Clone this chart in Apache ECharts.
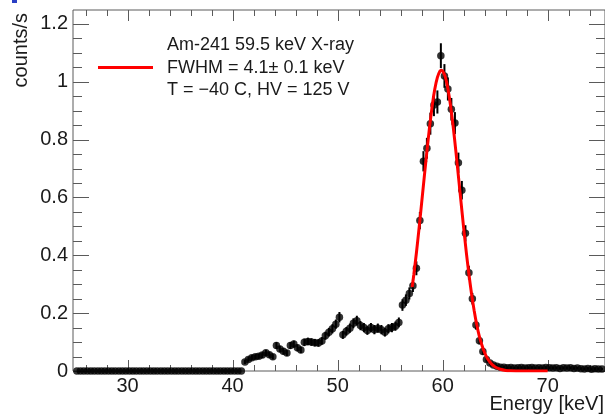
<!DOCTYPE html>
<html><head><meta charset="utf-8">
<script src="https://cdn.jsdelivr.net/npm/echarts@6/dist/echarts.min.js"></script>
<style>html,body{margin:0;padding:0;background:#fff}#c{width:605px;height:418px}</style>
</head><body><div id="c"></div>
<script>
// Bin centres (keV)
const energy = [
25.17,25.5,25.83,26.17,26.5,26.83,27.17,27.5,27.83,28.17,28.5,28.83,29.17,29.5,29.83,
30.17,30.5,30.83,31.17,31.5,31.83,32.17,32.5,32.83,33.17,33.5,33.83,34.17,34.5,34.83,
35.17,35.5,35.83,36.17,36.5,36.83,37.17,37.5,37.83,38.17,38.5,38.83,39.17,39.5,39.83,
40.17,40.5,40.83,41.17,41.5,41.83,42.17,42.5,42.83,43.17,43.5,43.83,44.17,44.5,44.83,
45.17,45.5,45.83,46.17,46.5,46.83,47.17,47.5,47.83,48.17,48.5,48.83,49.17,49.5,49.83,
50.17,50.5,50.83,51.17,51.5,51.83,52.17,52.5,52.83,53.17,53.5,53.83,54.17,54.5,54.83,
55.17,55.5,55.83,56.17,56.5,56.83,57.17,57.5,57.83,58.17,58.5,58.83,59.17,59.5,59.83,
60.17,60.5,60.83,61.17,61.5,61.83,62.17,62.5,62.83,63.17,63.5,63.83,64.17,64.5,64.83,
65.17,65.5,65.83,66.17,66.5,66.83,67.17,67.5,67.83,68.17,68.5,68.83,69.17,69.5,69.83,
70.17,70.5,70.83,71.17,71.5,71.83,72.17,72.5,72.83,73.17,73.5,73.83,74.17,74.5,74.83,
75.17
];
// counts/s per bin
const counts = [
0,0,0,0,0,0,0,0,0,0,0,0,0,0,0,
0,0,0,0,0,0,0,0,0,0,0,0,0,0,0,
0,0,0,0,0,0,0,0,0,0,0,0,0,0,0,
0,0,0,0.031,0.040,0.046,0.049,0.051,0.055,0.063,0.056,0.049,0.088,0.076,0.068,
0.062,0.088,0.093,0.080,0.073,0.099,0.102,0.100,0.098,0.097,0.104,0.122,0.134,0.146,0.162,
0.186,0.125,0.137,0.148,0.165,0.174,0.157,0.150,0.140,0.150,0.143,0.148,0.143,0.134,0.146,
0.150,0.155,0.168,0.228,0.245,0.268,0.295,0.355,0.520,0.725,0.770,0.855,0.920,0.930,1.090,
1.020,0.975,0.905,0.857,0.720,0.625,0.476,0.340,0.250,0.159,0.105,0.067,0.040,0.028,0.021,
0.016,0.013,0.013,0.011,0.012,0.010,0.011,0.012,0.010,0.011,0.012,0.010,0.011,0.010,0.012,
0.011,0.010,0.011,0.009,0.011,0.010,0.011,0.009,0.010,0.008,0.007,0.009,0.006,0.008,0.007,
0.007
];
// statistical error per bin
const errors = [
0,0,0,0,0,0,0,0,0,0,0,0,0,0,0,
0,0,0,0,0,0,0,0,0,0,0,0,0,0,0,
0,0,0,0,0,0,0,0,0,0,0,0,0,0,0,
0,0,0,0.007,0.008,0.009,0.009,0.009,0.010,0.010,0.010,0.009,0.012,0.011,0.011,
0.010,0.012,0.012,0.012,0.011,0.013,0.013,0.013,0.013,0.013,0.013,0.014,0.015,0.016,0.016,
0.018,0.014,0.015,0.016,0.017,0.017,0.016,0.016,0.015,0.016,0.016,0.016,0.016,0.015,0.016,
0.016,0.016,0.017,0.020,0.020,0.021,0.022,0.024,0.030,0.035,0.036,0.038,0.039,0.040,0.043,
0.041,0.040,0.039,0.038,0.035,0.032,0.028,0.024,0.020,0.016,0.013,0.011,0.008,0.007,0.006,
0.005,0.005,0.005,0.004,0.004,0.004,0.004,0.004,0.004,0.004,0.004,0.004,0.004,0.004,0.004,
0.004,0.004,0.004,0.004,0.004,0.004,0.004,0.004,0.004,0.004,0.004,0.004,0.004,0.004,0.004,
0.004
];
// fitted Gaussian curve
const fitEnergy = [57.1,57.25,57.5,57.75,58,58.25,58.5,58.75,59,59.25,59.5,59.75,59.88,60,60.25,60.5,60.75,61,61.25,61.5,61.75,62,62.25,62.5,62.75,63,63.25,63.5,63.75,64,64.25,64.5,64.75,65,65.5,66,66.5,67,68,69,70];
const fitCounts = [0.290,0.332,0.408,0.492,0.581,0.671,0.759,0.842,0.915,0.974,1.015,1.037,1.040,1.037,1.017,0.976,0.918,0.846,0.763,0.674,0.584,0.495,0.411,0.335,0.267,0.209,0.159,0.119,0.088,0.063,0.044,0.031,0.021,0.014,0.006,0.002,0.0007,0.0002,0,0,0];

const xMajorTicks = [30,40,50,60,70];
const xMinorTicks = [26,28,32,34,36,38,42,44,46,48,52,54,56,58,62,64,66,68,72,74];
const yMajorTicks = [0,0.2,0.4,0.6,0.8,1,1.2];
const yMinorTicks = [0.05,0.1,0.15,0.25,0.3,0.35,0.45,0.5,0.55,0.65,0.7,0.75,0.85,0.9,0.95,1.05,1.1,1.15];
const legendLines = ['Am-241 59.5 keV X-ray','FWHM = 4.1\u00b1 0.1 keV','T = \u221240 C, HV = 125 V'];
const xTitle = 'Energy [keV]';
const yTitle = 'counts/s';

const FONT = "'Liberation Sans', Arial, Helvetica, sans-serif";
const TXT = '#1a1a1a';
const AX = '#5a5a5a';

const tickItems = [];
xMajorTicks.forEach(v => tickItems.push({a:'x', v, m:true}));
xMinorTicks.forEach(v => tickItems.push({a:'x', v, m:false}));
yMajorTicks.forEach(v => tickItems.push({a:'y', v, m:true}));
yMinorTicks.forEach(v => tickItems.push({a:'y', v, m:false}));

const chart = echarts.init(document.getElementById('c'), null, {renderer:'canvas'});
const pts = energy.map((e,i) => [e, counts[i], errors[i]]);

chart.setOption({
  animation: false,
  backgroundColor: '#fff',
  grid: {left:73, top:10, right:0, bottom:47, show:true, borderColor:AX, borderWidth:1, backgroundColor:'transparent'},
  xAxis: {
    type:'value', min:24.8, max:75.46,
    axisLine:{show:false}, axisTick:{show:false}, splitLine:{show:false},
    axisLabel:{customValues:xMajorTicks, color:TXT, fontSize:20, fontFamily:FONT, margin:5}
  },
  yAxis: {
    type:'value', min:0, max:1.248, interval:0.2,
    axisLine:{show:false}, axisTick:{show:false}, splitLine:{show:false},
    axisLabel:{showMaxLabel:false, color:TXT, fontSize:20, fontFamily:FONT, margin:5}
  },
  series: [
    {
      type:'custom', name:'ticks', clip:false, silent:true, z:1,
      data: tickItems.map(t => [t.a==='x' ? t.v : 50, t.a==='y' ? t.v : 0.5]),
      renderItem: function(params, api){
        const t = tickItems[params.dataIndex];
        const cs = params.coordSys;
        const st = {stroke:AX, lineWidth:1};
        if (t.a === 'x') {
          const px = Math.round(api.coord([t.v, 0])[0]) + 0.5;
          const b = cs.y + cs.height, top = cs.y;
          const L = t.m ? 11 : 6;
          return {type:'group', children:[
            {type:'line', shape:{x1:px,y1:b,x2:px,y2:b-L}, style:st},
            {type:'line', shape:{x1:px,y1:top,x2:px,y2:top+L}, style:st}
          ]};
        } else {
          const py = Math.round(api.coord([50, t.v])[1]) + 0.5;
          const l = cs.x, r = cs.x + cs.width;
          const L = t.m ? 16 : 9;
          return {type:'group', children:[
            {type:'line', shape:{x1:l,y1:py,x2:l+L,y2:py}, style:st},
            {type:'line', shape:{x1:r,y1:py,x2:r-L,y2:py}, style:st}
          ]};
        }
      }
    },
    {
      type:'custom', name:'errors', z:2, silent:true,
      data: pts,
      renderItem: function(params, api){
        const x = api.value(0), y = api.value(1), e = api.value(2);
        if (!(e > 0)) return null;
        const p1 = api.coord([x, y - e]);
        const p2 = api.coord([x, y + e]);
        return {type:'line', shape:{x1:p1[0], y1:p1[1], x2:p2[0], y2:p2[1]}, style:{stroke:'#000', lineWidth:2}};
      }
    },
    {
      type:'scatter', name:'data', z:3, symbol:'circle', symbolSize:7.5,
      itemStyle:{color:'#000'}, data: energy.map((e,i) => [e, counts[i]])
    },
    {
      type:'line', name:'fit', z:4, symbol:'none', smooth:0.2,
      lineStyle:{color:'#ff0000', width:3},
      data: fitEnergy.map((e,i) => [e, fitCounts[i]])
    }
  ],
  graphic: [
    {type:'rect', shape:{x:12, y:0, width:5, height:3}, style:{fill:'#2a3fc4'}},
    {type:'line', shape:{x1:98, y1:67.5, x2:153, y2:67.5}, style:{stroke:'#ff0000', lineWidth:3}},
    {type:'text', x:167, y:45.5, style:{text:legendLines[0], font:'18px '+FONT, fill:TXT, verticalAlign:'middle', align:'left'}},
    {type:'text', x:167, y:68.5, style:{text:legendLines[1], font:'18px '+FONT, fill:TXT, verticalAlign:'middle', align:'left'}},
    {type:'text', x:167, y:90.5, style:{text:legendLines[2], font:'18px '+FONT, fill:TXT, verticalAlign:'middle', align:'left'}},
    {type:'text', x:604, y:404.5, style:{text:xTitle, font:'20px '+FONT, fill:TXT, verticalAlign:'middle', align:'right'}},
    {type:'text', x:21, y:13, rotation:Math.PI/2, style:{text:yTitle, font:'20px '+FONT, fill:TXT, verticalAlign:'middle', align:'right'}}
  ]
});
</script>
</body></html>
